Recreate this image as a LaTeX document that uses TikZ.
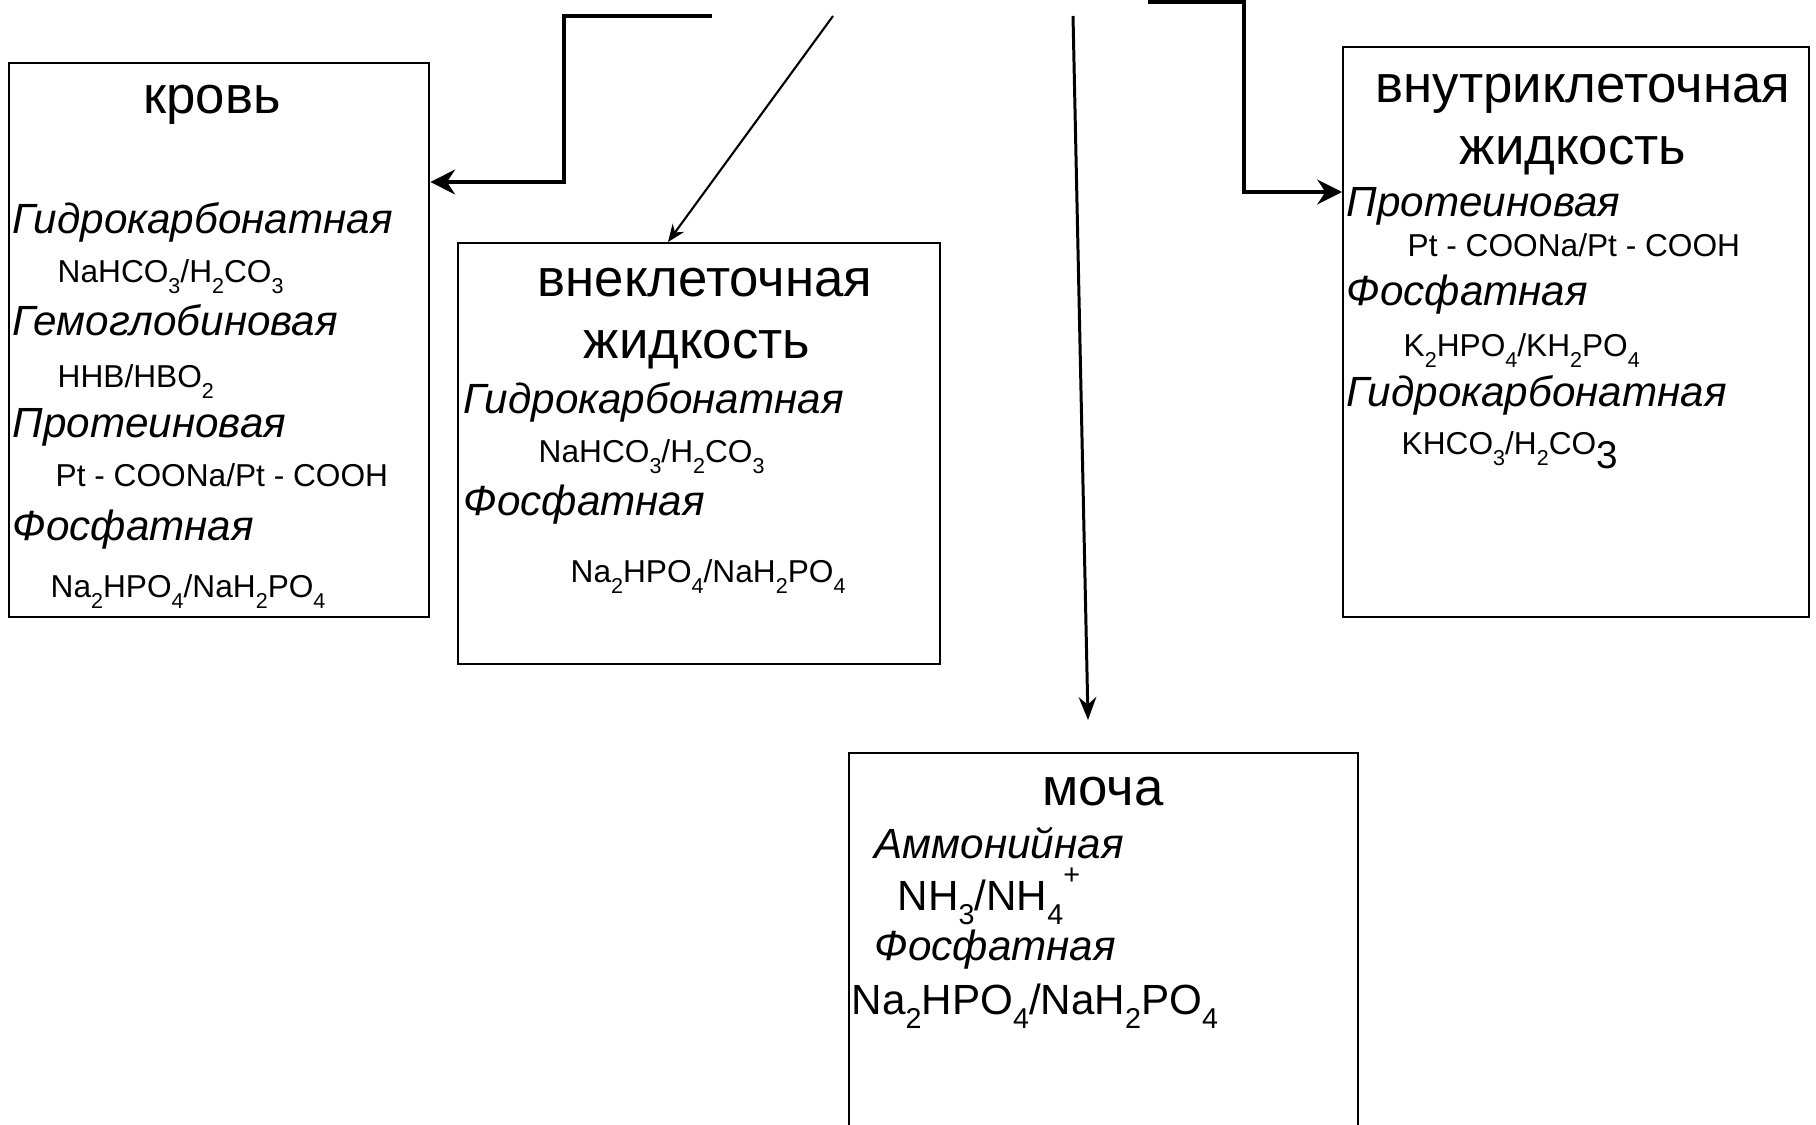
\documentclass[tikz,border=0pt]{standalone}
\usepackage{fontspec}
\usepackage{graphicx}
\setmainfont{Liberation Sans}
\usetikzlibrary{arrows.meta}

\newcommand{\lo}[1]{\raisebox{-0.35em}{\scalebox{0.68}{#1}}}
\newcommand{\hi}[1]{\raisebox{0.6em}{\scalebox{0.68}{#1}}}

\tikzset{
  box/.style={rectangle, draw=black, line width=0.6pt, anchor=north west, inner sep=0pt},
  title/.style={anchor=base, inner sep=0pt, font=\fontsize{15}{18}\selectfont},
  kind/.style={anchor=base west, inner sep=0pt, font=\fontsize{12}{14}\selectfont\itshape},
  formula/.style={anchor=base west, inner sep=0pt, font=\fontsize{9}{11}\selectfont},
  bigformula/.style={anchor=base west, inner sep=0pt, font=\fontsize{12}{14}\selectfont},
  elbow/.style={->, line width=1.2pt, >={Stealth[length=7pt, width=7pt]}},
  pointer/.style={->, line width=0.6pt, >={Stealth[length=5pt, width=4pt]}},
  drop/.style={->, line width=0.85pt, >={Stealth[length=6.5pt, width=5pt]}}
}

\begin{document}
\begin{tikzpicture}[x=0.01cm, y=-0.01cm]
\useasboundingbox (0,0) rectangle (1816,1124);
\clip (0,0) rectangle (1816,1124);

\node[box, minimum width=4.20cm, minimum height=5.54cm] (1) at (8,62) {};
\node[box, minimum width=4.82cm, minimum height=4.21cm] (2) at (457,242) {};
\node[box, minimum width=4.66cm, minimum height=5.70cm] (3) at (1342,46) {};
\node[box, minimum width=5.09cm, minimum height=4.20cm] (4) at (848,752) {};

\node[title] (10) at (212,113) {кровь};
\node[kind] (11) at (12,233) {Гидрокарбонатная};
\node[formula] (12) at (57,282) {NaHCO\lo{3}/H\lo{2}CO\lo{3}};
\node[kind] (13) at (12,335) {Гемоглобиновая};
\node[formula] (14) at (57,387) {HHB/HBO\lo{2}};
\node[kind] (15) at (12,437) {Протеиновая};
\node[formula] (16) at (55,486) {Pt - COONa/Pt - COOH};
\node[kind] (17) at (12,540) {Фосфатная};
\node[formula] (18) at (50,597) {Na\lo{2}HPO\lo{4}/NaH\lo{2}PO\lo{4}};

\node[title] (20) at (705,296) {внеклеточная};
\node[title] (21) at (697,358) {жидкость};
\node[kind] (22) at (463,413) {Гидрокарбонатная};
\node[formula] (23) at (538,462) {NaHCO\lo{3}/H\lo{2}CO\lo{3}};
\node[kind] (24) at (463,515) {Фосфатная};
\node[formula] (25) at (570,582) {Na\lo{2}HPO\lo{4}/NaH\lo{2}PO\lo{4}};

\node[title] (30) at (1583,102) {внутриклеточная};
\node[title] (31) at (1573,164) {жидкость};
\node[kind] (32) at (1346,216) {Протеиновая};
\node[formula] (33) at (1407,256) {Pt - COONa/Pt - COOH};
\node[kind] (34) at (1346,305) {Фосфатная};
\node[formula] (35) at (1403,356) {K\lo{2}HPO\lo{4}/KH\lo{2}PO\lo{4}};
\node[kind] (36) at (1346,406) {Гидрокарбонатная};
\node[formula] (37) at (1401,454) {KHCO\lo{3}/H\lo{2}CO\raisebox{-0.45em}{\fontsize{11}{13}\selectfont 3}};

\node[title] (40) at (1103,805) {моча};
\node[kind] (41) at (874,858) {Аммонийная};
\node[bigformula] (42) at (897,910) {NH\lo{3}/NH\lo{4}\hi{+}};
\node[kind] (43) at (874,960) {Фосфатная};
\node[bigformula] (44) at (851,1014) {Na\lo{2}HPO\lo{4}/NaH\lo{2}PO\lo{4}};

\coordinate (a1) at (712,16);
\coordinate (a2) at (833,16);
\coordinate (a3) at (1073,16);
\coordinate (b3) at (1088,720);
\coordinate (a4) at (1148,2);

\draw[elbow] (a1) -- (564,16) |- (1.east |- 0,182);
\draw[pointer] (a2) -- (2.north -| 668,0);
\draw[drop] (a3) -- (b3);
\draw[elbow] (a4) -- (1244,2) |- (3.west |- 0,192);
\end{tikzpicture}
\end{document}
